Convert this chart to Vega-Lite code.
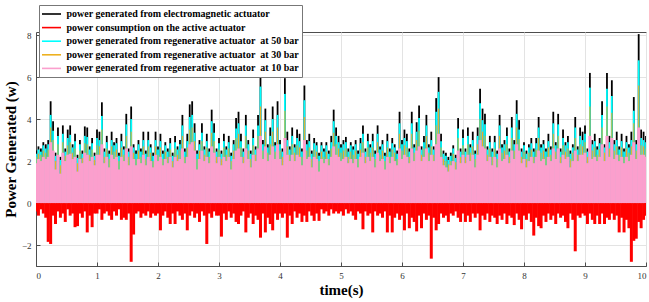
{
"$schema": "https://vega.github.io/schema/vega-lite/v6.json",
"width": 610, "height": 234,
"autosize": "none",
"padding": {"left": 36, "top": 32, "right": 3, "bottom": 36},
"background": "white",
"config": {
  "view": {"stroke": "#4d4d4d", "strokeWidth": 1},
  "font": "Liberation Serif",
  "axis": {"labelFont": "Liberation Serif", "labelFontSize": 9, "labelColor": "#333333", "titleFont": "Liberation Serif", "titleFontWeight": "bold", "titleFontSize": 15, "titleColor": "#000000", "gridColor": "#e3e3e3", "domainColor": "#4d4d4d", "tickColor": "#4d4d4d", "tickSize": -4, "labelPadding": 9}
},
"data": {"values": [
{"t":0.00,"a":2.5,"b":-0.4,"c":2.35,"d":2.2,"e":1.9},
{"t":0.04,"a":2.7,"b":-0.6,"c":2.55,"d":2.35,"e":2.1},
{"t":0.08,"a":2.6,"b":-0.3,"c":2.45,"d":2.3,"e":2.0},
{"t":0.12,"a":2.9,"b":-0.5,"c":2.75,"d":2.5,"e":2.2},
{"t":0.16,"a":2.8,"b":-0.7,"c":2.6,"d":2.4,"e":2.1},
{"t":0.20,"a":3.0,"b":-1.85,"c":2.8,"d":2.55,"e":2.2},
{"t":0.24,"a":4.85,"b":-1.95,"c":4.2,"d":3.6,"e":2.9},
{"t":0.28,"a":3.9,"b":-0.6,"c":3.45,"d":3.0,"e":2.5},
{"t":0.32,"a":2.4,"b":-1.0,"c":2.25,"d":2.0,"e":1.6},
{"t":0.36,"a":3.6,"b":-0.4,"c":3.2,"d":2.8,"e":2.3},
{"t":0.40,"a":2.2,"b":-0.7,"c":2.05,"d":1.8,"e":1.4},
{"t":0.44,"a":3.7,"b":-0.5,"c":3.3,"d":2.9,"e":2.4},
{"t":0.48,"a":2.6,"b":-0.9,"c":2.45,"d":2.25,"e":2.0},
{"t":0.52,"a":3.5,"b":-0.3,"c":3.1,"d":2.75,"e":2.3},
{"t":0.56,"a":3.7,"b":-0.6,"c":3.25,"d":2.9,"e":2.35},
{"t":0.60,"a":2.8,"b":-0.5,"c":2.65,"d":2.4,"e":2.1},
{"t":0.64,"a":3.3,"b":-1.15,"c":2.95,"d":2.6,"e":2.2},
{"t":0.68,"a":2.3,"b":-1.1,"c":2.15,"d":1.9,"e":1.5},
{"t":0.72,"a":3.0,"b":-0.5,"c":2.8,"d":2.5,"e":2.1},
{"t":0.76,"a":2.5,"b":-0.7,"c":2.35,"d":2.15,"e":1.9},
{"t":0.80,"a":3.65,"b":-0.4,"c":3.2,"d":2.85,"e":2.4},
{"t":0.84,"a":3.6,"b":-1.4,"c":3.15,"d":2.8,"e":2.3},
{"t":0.88,"a":2.7,"b":-0.6,"c":2.55,"d":2.3,"e":2.0},
{"t":0.92,"a":3.1,"b":-1.15,"c":2.85,"d":2.55,"e":2.2},
{"t":0.96,"a":2.4,"b":-0.5,"c":2.25,"d":2.05,"e":1.8},
{"t":1.00,"a":3.5,"b":-0.5,"c":3.1,"d":2.75,"e":2.3},
{"t":1.04,"a":3.4,"b":-0.3,"c":3.0,"d":2.7,"e":2.3},
{"t":1.08,"a":4.8,"b":-0.8,"c":4.15,"d":3.5,"e":2.8},
{"t":1.12,"a":2.6,"b":-0.5,"c":2.45,"d":2.2,"e":1.9},
{"t":1.16,"a":3.2,"b":-0.4,"c":2.9,"d":2.6,"e":2.2},
{"t":1.20,"a":2.5,"b":-0.6,"c":2.35,"d":2.1,"e":1.7},
{"t":1.24,"a":3.4,"b":-0.8,"c":3.0,"d":2.7,"e":2.3},
{"t":1.28,"a":2.9,"b":-0.4,"c":2.75,"d":2.45,"e":2.1},
{"t":1.32,"a":3.1,"b":-0.6,"c":2.85,"d":2.55,"e":2.2},
{"t":1.36,"a":2.4,"b":-0.3,"c":2.25,"d":2.0,"e":1.6},
{"t":1.40,"a":3.3,"b":-0.8,"c":2.95,"d":2.65,"e":2.2},
{"t":1.44,"a":2.7,"b":-0.7,"c":2.55,"d":2.3,"e":2.0},
{"t":1.48,"a":4.25,"b":-0.8,"c":3.75,"d":3.2,"e":2.6},
{"t":1.52,"a":2.6,"b":-0.5,"c":2.45,"d":2.2,"e":1.8},
{"t":1.56,"a":4.6,"b":-2.8,"c":4.0,"d":3.4,"e":2.7},
{"t":1.60,"a":2.8,"b":-1.5,"c":2.65,"d":2.4,"e":2.1},
{"t":1.64,"a":2.5,"b":-0.5,"c":2.35,"d":2.1,"e":1.8},
{"t":1.68,"a":3.0,"b":-0.4,"c":2.8,"d":2.5,"e":2.1},
{"t":1.72,"a":2.6,"b":-0.7,"c":2.45,"d":2.2,"e":1.9},
{"t":1.76,"a":3.4,"b":-0.5,"c":3.0,"d":2.7,"e":2.3},
{"t":1.80,"a":2.5,"b":-0.6,"c":2.35,"d":2.1,"e":1.8},
{"t":1.84,"a":3.4,"b":-0.4,"c":3.0,"d":2.7,"e":2.2},
{"t":1.88,"a":2.8,"b":-0.7,"c":2.65,"d":2.4,"e":2.0},
{"t":1.92,"a":2.4,"b":-0.5,"c":2.25,"d":2.0,"e":1.7},
{"t":1.96,"a":3.4,"b":-0.6,"c":3.0,"d":2.7,"e":2.3},
{"t":2.00,"a":2.7,"b":-0.5,"c":2.55,"d":2.3,"e":2.0},
{"t":2.04,"a":3.3,"b":-1.3,"c":2.95,"d":2.65,"e":2.2},
{"t":2.08,"a":2.5,"b":-0.6,"c":2.35,"d":2.1,"e":1.8},
{"t":2.12,"a":2.9,"b":-0.4,"c":2.75,"d":2.45,"e":2.1},
{"t":2.16,"a":2.6,"b":-0.7,"c":2.45,"d":2.2,"e":1.9},
{"t":2.20,"a":3.1,"b":-1.0,"c":2.85,"d":2.55,"e":2.2},
{"t":2.24,"a":2.4,"b":-0.5,"c":2.25,"d":2.0,"e":1.7},
{"t":2.28,"a":3.2,"b":-1.0,"c":2.9,"d":2.6,"e":2.2},
{"t":2.32,"a":2.7,"b":-0.4,"c":2.55,"d":2.3,"e":2.0},
{"t":2.36,"a":3.0,"b":-0.6,"c":2.8,"d":2.5,"e":2.1},
{"t":2.40,"a":4.2,"b":-0.8,"c":3.7,"d":3.2,"e":2.6},
{"t":2.44,"a":2.6,"b":-0.5,"c":2.45,"d":2.2,"e":1.9},
{"t":2.48,"a":3.3,"b":-1.3,"c":2.95,"d":2.65,"e":2.2},
{"t":2.52,"a":4.7,"b":-0.6,"c":4.1,"d":3.5,"e":2.8},
{"t":2.56,"a":4.85,"b":-0.4,"c":4.2,"d":3.6,"e":2.9},
{"t":2.60,"a":3.8,"b":-0.7,"c":3.35,"d":2.95,"e":2.5},
{"t":2.64,"a":2.5,"b":-0.5,"c":2.35,"d":2.1,"e":1.6},
{"t":2.68,"a":3.0,"b":-0.9,"c":2.8,"d":2.5,"e":2.1},
{"t":2.72,"a":3.8,"b":-0.4,"c":3.35,"d":2.95,"e":2.5},
{"t":2.76,"a":2.7,"b":-0.6,"c":2.55,"d":2.3,"e":2.0},
{"t":2.80,"a":3.3,"b":-1.95,"c":2.95,"d":2.65,"e":2.2},
{"t":2.84,"a":2.6,"b":-0.5,"c":2.45,"d":2.2,"e":1.9},
{"t":2.88,"a":4.45,"b":-0.7,"c":3.9,"d":3.35,"e":2.7},
{"t":2.92,"a":3.8,"b":-0.4,"c":3.35,"d":2.95,"e":2.4},
{"t":2.96,"a":2.6,"b":-0.6,"c":2.45,"d":2.2,"e":1.9},
{"t":3.00,"a":3.1,"b":-0.6,"c":2.85,"d":2.55,"e":2.2},
{"t":3.04,"a":2.5,"b":-1.6,"c":2.35,"d":2.1,"e":1.8},
{"t":3.08,"a":3.3,"b":-0.5,"c":2.95,"d":2.65,"e":2.2},
{"t":3.12,"a":2.7,"b":-0.8,"c":2.55,"d":2.3,"e":2.0},
{"t":3.16,"a":3.2,"b":-0.4,"c":2.9,"d":2.6,"e":2.2},
{"t":3.20,"a":2.4,"b":-0.7,"c":2.25,"d":2.0,"e":1.6},
{"t":3.24,"a":3.0,"b":-0.5,"c":2.8,"d":2.5,"e":2.1},
{"t":3.28,"a":4.05,"b":-0.9,"c":3.55,"d":3.1,"e":2.5},
{"t":3.32,"a":4.35,"b":-1.0,"c":3.8,"d":3.3,"e":2.6},
{"t":3.36,"a":3.3,"b":-0.6,"c":2.95,"d":2.65,"e":2.2},
{"t":3.40,"a":2.6,"b":-0.4,"c":2.45,"d":2.2,"e":1.9},
{"t":3.44,"a":4.2,"b":-1.4,"c":3.7,"d":3.2,"e":2.6},
{"t":3.48,"a":3.0,"b":-0.7,"c":2.8,"d":2.5,"e":2.1},
{"t":3.52,"a":2.5,"b":-0.5,"c":2.35,"d":2.1,"e":1.7},
{"t":3.56,"a":3.5,"b":-1.0,"c":3.1,"d":2.75,"e":2.3},
{"t":3.60,"a":2.7,"b":-0.6,"c":2.55,"d":2.3,"e":2.0},
{"t":3.64,"a":4.2,"b":-0.8,"c":3.7,"d":3.2,"e":2.6},
{"t":3.68,"a":6.2,"b":-1.65,"c":5.55,"d":4.6,"e":3.2},
{"t":3.72,"a":3.0,"b":-0.5,"c":2.8,"d":2.5,"e":2.1},
{"t":3.76,"a":4.5,"b":-1.4,"c":3.95,"d":3.4,"e":2.7},
{"t":3.80,"a":2.8,"b":-0.7,"c":2.65,"d":2.4,"e":2.0},
{"t":3.84,"a":3.6,"b":-1.0,"c":3.2,"d":2.8,"e":2.3},
{"t":3.88,"a":4.6,"b":-1.3,"c":4.0,"d":3.4,"e":2.7},
{"t":3.92,"a":2.9,"b":-0.5,"c":2.75,"d":2.45,"e":2.1},
{"t":3.96,"a":4.85,"b":-0.8,"c":4.2,"d":3.6,"e":2.8},
{"t":4.00,"a":3.0,"b":-0.5,"c":2.8,"d":2.5,"e":2.1},
{"t":4.04,"a":2.6,"b":-0.7,"c":2.45,"d":2.2,"e":1.8},
{"t":4.08,"a":5.95,"b":-0.5,"c":5.2,"d":4.4,"e":3.1},
{"t":4.12,"a":3.4,"b":-1.65,"c":3.0,"d":2.7,"e":2.3},
{"t":4.16,"a":2.7,"b":-0.6,"c":2.55,"d":2.3,"e":2.0},
{"t":4.20,"a":3.6,"b":-1.0,"c":3.2,"d":2.8,"e":2.3},
{"t":4.24,"a":2.8,"b":-0.4,"c":2.65,"d":2.4,"e":2.0},
{"t":4.28,"a":3.5,"b":-0.7,"c":3.1,"d":2.75,"e":2.3},
{"t":4.32,"a":3.3,"b":-0.5,"c":2.95,"d":2.65,"e":2.2},
{"t":4.36,"a":2.6,"b":-0.9,"c":2.45,"d":2.2,"e":1.8},
{"t":4.40,"a":5.6,"b":-0.6,"c":4.9,"d":4.1,"e":3.0},
{"t":4.44,"a":3.0,"b":-0.9,"c":2.8,"d":2.5,"e":2.1},
{"t":4.48,"a":3.3,"b":-0.4,"c":2.95,"d":2.65,"e":2.2},
{"t":4.52,"a":2.5,"b":-0.6,"c":2.35,"d":2.1,"e":1.7},
{"t":4.56,"a":3.1,"b":-0.85,"c":2.85,"d":2.55,"e":2.2},
{"t":4.60,"a":2.9,"b":-0.5,"c":2.75,"d":2.45,"e":2.1},
{"t":4.64,"a":2.4,"b":-0.85,"c":2.25,"d":2.0,"e":1.5},
{"t":4.68,"a":2.9,"b":-0.3,"c":2.75,"d":2.45,"e":2.1},
{"t":4.72,"a":2.6,"b":-0.5,"c":2.45,"d":2.2,"e":1.9},
{"t":4.76,"a":2.9,"b":-0.4,"c":2.75,"d":2.45,"e":2.1},
{"t":4.80,"a":2.5,"b":-0.6,"c":2.35,"d":2.1,"e":1.8},
{"t":4.84,"a":3.2,"b":-0.3,"c":2.9,"d":2.6,"e":2.2},
{"t":4.88,"a":4.45,"b":-0.5,"c":3.9,"d":3.35,"e":2.7},
{"t":4.92,"a":3.6,"b":-0.4,"c":3.2,"d":2.8,"e":2.3},
{"t":4.96,"a":3.2,"b":-0.5,"c":2.9,"d":2.6,"e":2.2},
{"t":5.00,"a":2.8,"b":-0.4,"c":2.65,"d":2.4,"e":2.0},
{"t":5.04,"a":3.0,"b":-0.6,"c":2.8,"d":2.5,"e":2.1},
{"t":5.08,"a":3.15,"b":-0.3,"c":2.9,"d":2.6,"e":2.2},
{"t":5.12,"a":2.6,"b":-0.5,"c":2.45,"d":2.2,"e":1.9},
{"t":5.16,"a":2.9,"b":-0.4,"c":2.75,"d":2.45,"e":2.1},
{"t":5.20,"a":2.7,"b":-0.6,"c":2.55,"d":2.3,"e":1.9},
{"t":5.24,"a":3.0,"b":-0.8,"c":2.8,"d":2.5,"e":2.1},
{"t":5.28,"a":2.5,"b":-0.4,"c":2.35,"d":2.1,"e":1.7},
{"t":5.32,"a":3.1,"b":-0.5,"c":2.85,"d":2.55,"e":2.2},
{"t":5.36,"a":3.7,"b":-1.25,"c":3.3,"d":2.9,"e":2.4},
{"t":5.40,"a":2.6,"b":-0.4,"c":2.45,"d":2.2,"e":1.9},
{"t":5.44,"a":3.3,"b":-0.6,"c":2.95,"d":2.65,"e":2.2},
{"t":5.48,"a":2.8,"b":-0.5,"c":2.65,"d":2.4,"e":2.0},
{"t":5.52,"a":3.3,"b":-1.4,"c":2.95,"d":2.65,"e":2.2},
{"t":5.56,"a":2.5,"b":-0.4,"c":2.35,"d":2.1,"e":1.7},
{"t":5.60,"a":3.7,"b":-0.6,"c":3.3,"d":2.9,"e":2.4},
{"t":5.64,"a":2.7,"b":-0.5,"c":2.55,"d":2.3,"e":2.0},
{"t":5.68,"a":3.0,"b":-0.7,"c":2.8,"d":2.5,"e":2.1},
{"t":5.72,"a":2.4,"b":-0.4,"c":2.25,"d":2.0,"e":1.6},
{"t":5.76,"a":3.3,"b":-1.4,"c":2.95,"d":2.65,"e":2.2},
{"t":5.80,"a":2.6,"b":-0.6,"c":2.45,"d":2.2,"e":1.9},
{"t":5.84,"a":3.1,"b":-1.4,"c":2.85,"d":2.55,"e":2.2},
{"t":5.88,"a":2.8,"b":-0.7,"c":2.65,"d":2.4,"e":2.0},
{"t":5.92,"a":2.5,"b":-0.5,"c":2.35,"d":2.1,"e":1.8},
{"t":5.96,"a":4.35,"b":-0.8,"c":3.8,"d":3.3,"e":2.6},
{"t":6.00,"a":3.0,"b":-0.6,"c":2.8,"d":2.5,"e":2.1},
{"t":6.04,"a":3.5,"b":-1.3,"c":3.1,"d":2.75,"e":2.3},
{"t":6.08,"a":3.3,"b":-0.5,"c":2.95,"d":2.65,"e":2.2},
{"t":6.12,"a":2.6,"b":-1.2,"c":2.45,"d":2.2,"e":1.9},
{"t":6.16,"a":4.35,"b":-0.7,"c":3.8,"d":3.3,"e":2.6},
{"t":6.20,"a":2.8,"b":-0.9,"c":2.65,"d":2.4,"e":2.0},
{"t":6.24,"a":3.85,"b":-1.35,"c":3.4,"d":3.0,"e":2.5},
{"t":6.28,"a":4.65,"b":-0.6,"c":4.05,"d":3.45,"e":2.7},
{"t":6.32,"a":2.7,"b":-1.2,"c":2.55,"d":2.3,"e":2.0},
{"t":6.36,"a":3.2,"b":-0.5,"c":2.9,"d":2.6,"e":2.2},
{"t":6.40,"a":4.2,"b":-0.8,"c":3.7,"d":3.2,"e":2.6},
{"t":6.44,"a":2.8,"b":-0.6,"c":2.65,"d":2.4,"e":2.0},
{"t":6.48,"a":3.4,"b":-2.65,"c":3.0,"d":2.7,"e":2.3},
{"t":6.52,"a":2.7,"b":-0.7,"c":2.55,"d":2.3,"e":2.0},
{"t":6.56,"a":5.0,"b":-1.3,"c":4.35,"d":3.7,"e":2.8},
{"t":6.60,"a":6.0,"b":-1.0,"c":5.3,"d":4.5,"e":3.3},
{"t":6.64,"a":3.3,"b":-0.5,"c":2.95,"d":2.65,"e":2.2},
{"t":6.68,"a":2.5,"b":-0.7,"c":2.35,"d":2.1,"e":1.8},
{"t":6.72,"a":2.4,"b":-0.6,"c":2.25,"d":2.0,"e":1.7},
{"t":6.76,"a":2.2,"b":-0.9,"c":2.05,"d":1.85,"e":1.5},
{"t":6.80,"a":2.4,"b":-0.5,"c":2.25,"d":2.0,"e":1.8},
{"t":6.84,"a":2.75,"b":-0.6,"c":2.6,"d":2.35,"e":2.0},
{"t":6.88,"a":2.3,"b":-0.4,"c":2.15,"d":1.95,"e":1.6},
{"t":6.92,"a":4.05,"b":-0.7,"c":3.55,"d":3.1,"e":2.5},
{"t":6.96,"a":2.6,"b":-0.9,"c":2.45,"d":2.2,"e":1.9},
{"t":7.00,"a":3.5,"b":-0.5,"c":3.1,"d":2.75,"e":2.3},
{"t":7.04,"a":2.6,"b":-0.9,"c":2.45,"d":2.2,"e":1.9},
{"t":7.08,"a":3.6,"b":-0.6,"c":3.2,"d":2.8,"e":2.3},
{"t":7.12,"a":2.8,"b":-0.9,"c":2.65,"d":2.4,"e":2.0},
{"t":7.16,"a":3.4,"b":-0.5,"c":3.0,"d":2.7,"e":2.3},
{"t":7.20,"a":2.5,"b":-0.7,"c":2.35,"d":2.1,"e":1.7},
{"t":7.24,"a":3.6,"b":-0.5,"c":3.2,"d":2.8,"e":2.3},
{"t":7.28,"a":5.45,"b":-1.3,"c":4.75,"d":4.0,"e":3.0},
{"t":7.32,"a":4.5,"b":-0.6,"c":3.95,"d":3.4,"e":2.7},
{"t":7.36,"a":4.25,"b":-0.8,"c":3.75,"d":3.2,"e":2.6},
{"t":7.40,"a":2.7,"b":-0.5,"c":2.55,"d":2.3,"e":2.0},
{"t":7.44,"a":3.2,"b":-0.9,"c":2.9,"d":2.6,"e":2.2},
{"t":7.48,"a":2.6,"b":-0.6,"c":2.45,"d":2.2,"e":1.8},
{"t":7.52,"a":3.2,"b":-0.7,"c":2.9,"d":2.6,"e":2.2},
{"t":7.56,"a":2.5,"b":-1.0,"c":2.35,"d":2.1,"e":1.7},
{"t":7.60,"a":4.2,"b":-0.6,"c":3.7,"d":3.2,"e":2.6},
{"t":7.64,"a":2.8,"b":-0.8,"c":2.65,"d":2.4,"e":2.0},
{"t":7.68,"a":3.0,"b":-0.5,"c":2.8,"d":2.5,"e":2.1},
{"t":7.72,"a":3.6,"b":-1.0,"c":3.2,"d":2.8,"e":2.3},
{"t":7.76,"a":2.6,"b":-0.6,"c":2.45,"d":2.2,"e":1.9},
{"t":7.80,"a":4.1,"b":-0.7,"c":3.6,"d":3.1,"e":2.5},
{"t":7.84,"a":3.0,"b":-1.05,"c":2.8,"d":2.5,"e":2.1},
{"t":7.88,"a":4.9,"b":-0.5,"c":4.25,"d":3.6,"e":2.8},
{"t":7.92,"a":3.95,"b":-0.8,"c":3.5,"d":3.05,"e":2.5},
{"t":7.96,"a":2.6,"b":-1.25,"c":2.45,"d":2.2,"e":1.9},
{"t":8.00,"a":2.9,"b":-0.6,"c":2.75,"d":2.45,"e":2.1},
{"t":8.04,"a":2.5,"b":-0.8,"c":2.35,"d":2.1,"e":1.7},
{"t":8.08,"a":2.8,"b":-0.5,"c":2.65,"d":2.4,"e":2.0},
{"t":8.12,"a":3.1,"b":-0.9,"c":2.85,"d":2.55,"e":2.2},
{"t":8.16,"a":2.6,"b":-1.55,"c":2.45,"d":2.2,"e":1.9},
{"t":8.20,"a":3.1,"b":-0.7,"c":2.85,"d":2.55,"e":2.2},
{"t":8.24,"a":4.1,"b":-1.1,"c":3.6,"d":3.1,"e":2.5},
{"t":8.28,"a":2.8,"b":-1.2,"c":2.65,"d":2.4,"e":2.0},
{"t":8.32,"a":3.0,"b":-0.6,"c":2.8,"d":2.5,"e":2.1},
{"t":8.36,"a":2.6,"b":-0.9,"c":2.45,"d":2.2,"e":1.8},
{"t":8.40,"a":3.3,"b":-0.5,"c":2.95,"d":2.65,"e":2.2},
{"t":8.44,"a":2.7,"b":-0.8,"c":2.55,"d":2.3,"e":2.0},
{"t":8.48,"a":4.35,"b":-0.6,"c":3.8,"d":3.3,"e":2.6},
{"t":8.52,"a":2.9,"b":-1.0,"c":2.75,"d":2.45,"e":2.1},
{"t":8.56,"a":4.25,"b":-0.5,"c":3.75,"d":3.2,"e":2.6},
{"t":8.60,"a":2.6,"b":-0.7,"c":2.45,"d":2.2,"e":1.9},
{"t":8.64,"a":3.5,"b":-0.6,"c":3.1,"d":2.75,"e":2.3},
{"t":8.68,"a":2.9,"b":-0.9,"c":2.75,"d":2.45,"e":2.1},
{"t":8.72,"a":3.2,"b":-1.2,"c":2.9,"d":2.6,"e":2.2},
{"t":8.76,"a":2.5,"b":-0.5,"c":2.35,"d":2.1,"e":1.7},
{"t":8.80,"a":2.8,"b":-0.8,"c":2.65,"d":2.4,"e":2.0},
{"t":8.84,"a":4.1,"b":-2.3,"c":3.6,"d":3.1,"e":2.5},
{"t":8.88,"a":2.7,"b":-0.6,"c":2.55,"d":2.3,"e":2.0},
{"t":8.92,"a":3.6,"b":-0.7,"c":3.2,"d":2.8,"e":2.3},
{"t":8.96,"a":3.4,"b":-0.5,"c":3.0,"d":2.7,"e":2.3},
{"t":9.00,"a":3.7,"b":-0.6,"c":3.3,"d":2.9,"e":2.4},
{"t":9.04,"a":2.6,"b":-1.0,"c":2.45,"d":2.2,"e":1.9},
{"t":9.08,"a":6.2,"b":-0.5,"c":5.5,"d":4.6,"e":3.2},
{"t":9.12,"a":3.0,"b":-0.8,"c":2.8,"d":2.5,"e":2.1},
{"t":9.16,"a":3.3,"b":-1.0,"c":2.95,"d":2.65,"e":2.2},
{"t":9.20,"a":2.7,"b":-0.6,"c":2.55,"d":2.3,"e":2.0},
{"t":9.24,"a":3.1,"b":-1.0,"c":2.85,"d":2.55,"e":2.2},
{"t":9.28,"a":4.85,"b":-0.5,"c":4.2,"d":3.6,"e":2.8},
{"t":9.32,"a":2.8,"b":-1.0,"c":2.65,"d":2.4,"e":2.0},
{"t":9.36,"a":6.2,"b":-0.7,"c":5.45,"d":4.6,"e":3.2},
{"t":9.40,"a":3.2,"b":-0.8,"c":2.9,"d":2.6,"e":2.2},
{"t":9.44,"a":5.85,"b":-0.5,"c":5.1,"d":4.3,"e":3.1},
{"t":9.48,"a":3.0,"b":-0.8,"c":2.8,"d":2.5,"e":2.1},
{"t":9.52,"a":3.4,"b":-0.6,"c":3.0,"d":2.7,"e":2.3},
{"t":9.56,"a":2.7,"b":-1.4,"c":2.55,"d":2.3,"e":2.0},
{"t":9.60,"a":3.3,"b":-0.7,"c":2.95,"d":2.65,"e":2.2},
{"t":9.64,"a":2.6,"b":-1.4,"c":2.45,"d":2.2,"e":1.9},
{"t":9.68,"a":3.2,"b":-0.8,"c":2.9,"d":2.6,"e":2.2},
{"t":9.72,"a":2.8,"b":-1.2,"c":2.65,"d":2.4,"e":2.0},
{"t":9.76,"a":3.4,"b":-2.8,"c":3.0,"d":2.7,"e":2.3},
{"t":9.80,"a":5.05,"b":-1.8,"c":4.4,"d":3.8,"e":2.9},
{"t":9.84,"a":3.0,"b":-1.7,"c":2.8,"d":2.5,"e":2.1},
{"t":9.88,"a":8.05,"b":-0.9,"c":6.8,"d":5.6,"e":3.6},
{"t":9.92,"a":3.5,"b":-1.2,"c":3.1,"d":2.75,"e":2.3},
{"t":9.96,"a":3.4,"b":-0.8,"c":3.0,"d":2.7,"e":2.3},
{"t":10.00,"a":3.2,"b":-0.6,"c":2.9,"d":2.6,"e":2.2}
]},
"encoding": {
  "x": {"field": "t", "type": "quantitative", "scale": {"domain": [0, 10], "nice": false, "zero": false},
        "axis": {"values": [0,1,2,3,4,5,6,7,8,9,10], "title": "time(s)", "titlePadding": 2, "grid": true}}
},
"layer": [
  {"mark": {"type": "rule", "strokeWidth": 1.8, "clip": true},
   "encoding": {
     "y": {"field": "a", "type": "quantitative", "scale": {"domain": [-3, 8.15], "nice": false, "zero": false},
           "axis": {"values": [-2,0,2,4,6,8], "title": "Power Generated (w)", "titlePadding": 3, "grid": true}},
     "y2": {"datum": 0},
     "color": {"datum": "power generated from electromagnetic actuator", "type": "nominal",
       "scale": {"domain": ["power generated from electromagnetic actuator", "power consumption on the active actuator", "power generated from regenerative actuator\u00a0 at 50 bar", "power generated from regenerative actuator\u00a0 at 30 bar", "power generated from regenerative actuator\u00a0 at 10 bar"],
                 "range": ["#000000", "#ff0000", "#00ffff", "#edb120", "#fb9fcd"]},
       "legend": {"title": null, "orient": "none", "legendX": 3, "legendY": -27, "fillColor": "white", "strokeColor": "#777777", "padding": 3,
                  "labelFont": "Liberation Serif", "labelFontWeight": "bold", "labelFontSize": 10, "labelColor": "#000000", "labelLimit": 400,
                  "symbolType": "M-1.9,0H1.9", "symbolSize": 100, "symbolStrokeWidth": 1.6, "symbolOffset": 3.5, "labelOffset": 9, "rowPadding": 2.6}}
   }},
  {"mark": {"type": "rule", "strokeWidth": 3, "clip": true},
   "encoding": {
     "y": {"field": "b", "type": "quantitative", "scale": {"domain": [-3, 8.15], "nice": false, "zero": false}, "title": "Power Generated (w)"},
     "y2": {"datum": 0},
     "color": {"datum": "power consumption on the active actuator", "type": "nominal"}
   }},
  {"mark": {"type": "rule", "strokeWidth": 1.8, "clip": true},
   "encoding": {
     "y": {"field": "c", "type": "quantitative", "scale": {"domain": [-3, 8.15], "nice": false, "zero": false}, "title": "Power Generated (w)"},
     "y2": {"datum": 0},
     "color": {"datum": "power generated from regenerative actuator\u00a0 at 50 bar", "type": "nominal"}
   }},
  {"mark": {"type": "rule", "strokeWidth": 1, "clip": true},
   "encoding": {
     "y": {"field": "d", "type": "quantitative", "scale": {"domain": [-3, 8.15], "nice": false, "zero": false}, "title": "Power Generated (w)"},
     "y2": {"datum": 0},
     "color": {"datum": "power generated from regenerative actuator\u00a0 at 30 bar", "type": "nominal"}
   }},
  {"mark": {"type": "rule", "strokeWidth": 3, "clip": true},
   "encoding": {
     "y": {"field": "e", "type": "quantitative", "scale": {"domain": [-3, 8.15], "nice": false, "zero": false}, "title": "Power Generated (w)"},
     "y2": {"datum": 0},
     "color": {"datum": "power generated from regenerative actuator\u00a0 at 10 bar", "type": "nominal"}
   }}
]
}
